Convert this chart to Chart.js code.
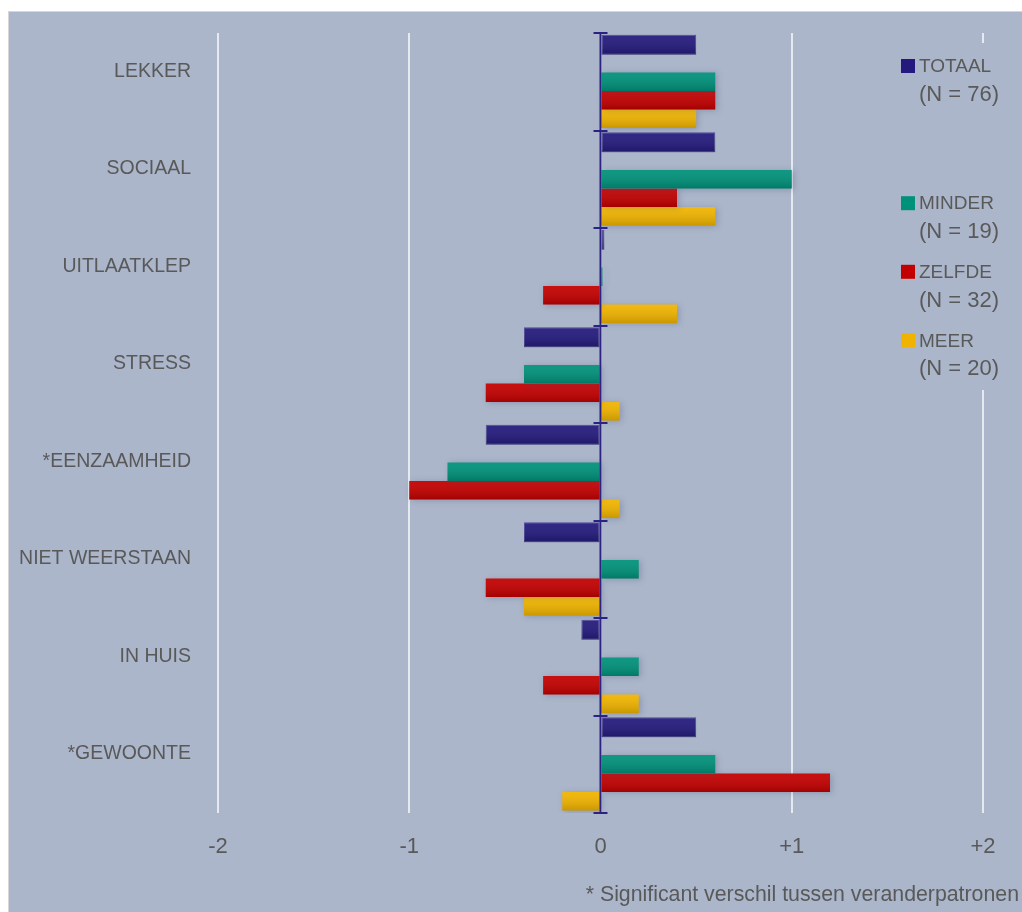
<!DOCTYPE html>
<html lang="nl">
<head>
<meta charset="UTF-8">
<title>Eetmotieven per veranderpatroon</title>
<script src="https://cdn.jsdelivr.net/npm/chart.js"></script>
<style>
    body {
        margin: 0;
        background-color: #ffffff;
    }

    canvas {
        display: block;
    }
</style>
</head>
<body>
<canvas id="motiefChart" width="1022" height="912"></canvas>

<script>
    const categories = ['LEKKER', 'SOCIAAL', 'UITLAATKLEP', 'STRESS', '*EENZAAMHEID', 'NIET WEERSTAAN', 'IN HUIS', '*GEWOONTE'];
    const totaal = [0.5, 0.6, 0.02, -0.4, -0.6, -0.4, -0.1, 0.5];
    const minder = [0.6, 1.0, 0.01, -0.4, -0.8, 0.2, 0.2, 0.6];
    const zelfde = [0.6, 0.4, -0.3, -0.6, -1.0, -0.6, -0.3, 1.2];
    const meer = [0.5, 0.6, 0.4, 0.1, 0.1, -0.4, 0.2, -0.2];
    const groupNames = ['TOTAAL', '', 'MINDER', 'ZELFDE', 'MEER'];
    const groupSizes = [76, null, 19, 32, 20];
    const xTicks = [-2, -1, 0, 1, 2];
    const footnote = '* Significant verschil tussen veranderpatronen';

    const FONT = "'Liberation Sans', Arial, sans-serif";
    const TEXT = '#595959';
    const BG = '#abb6ca';
    const colors = ['#241a7d', 'rgba(0,0,0,0)', '#00917a', '#c30000', '#f0b400'];

    // empty slot between TOTAAL and the three groups
    const series = [totaal, categories.map(() => null), minder, zelfde, meer];

    const datasets = series.map((values, i) => ({
        label: groupNames[i],
        data: values,
        backgroundColor: colors[i],
        borderColor: i === 0 ? '#4c479a' : colors[i],
        borderWidth: i === 0 ? 1 : 0,
        borderSkipped: false,
        categoryPercentage: 0.95,
        barPercentage: i === 0 ? 1.08 : 1
    }));

    // page background with thin frame
    const backdrop = {
        id: 'backdrop',
        beforeDraw(chart) {
            const { ctx, width, height } = chart;
            ctx.save();
            ctx.fillStyle = '#ffffff';
            ctx.fillRect(0, 0, width, height);
            ctx.fillStyle = '#d6d6d6';
            ctx.fillRect(8, 11, width - 8, height - 11);
            ctx.fillStyle = BG;
            ctx.fillRect(9, 12, width - 9, height - 12);
            ctx.restore();
        }
    };

    // soft shadow, shading on the bars and the zero axis with its ticks
    const barStyle = {
        id: 'barStyle',
        beforeDatasetsDraw(chart) {
            const ctx = chart.ctx;
            ctx.save();
            ctx.shadowColor = 'rgba(60, 70, 110, 0.28)';
            ctx.shadowBlur = 6;
            ctx.shadowOffsetX = 2;
            ctx.shadowOffsetY = 1;
        },
        afterDatasetsDraw(chart) {
            const { ctx, chartArea, scales: { x, y } } = chart;
            ctx.restore();

            ctx.save();
            chart.getSortedVisibleDatasetMetas().forEach(meta => {
                meta.data.forEach(bar => {
                    const p = bar.getProps(['x', 'y', 'base', 'height']);
                    if (p.x === p.base || isNaN(p.x)) return;
                    const top = p.y - p.height / 2;
                    const g = ctx.createLinearGradient(0, top, 0, top + p.height);
                    g.addColorStop(0, 'rgba(255,255,255,0.06)');
                    g.addColorStop(1, 'rgba(0,0,0,0.16)');
                    ctx.fillStyle = g;
                    ctx.fillRect(Math.min(p.x, p.base), top, Math.abs(p.x - p.base), p.height);
                });
            });

            const x0 = x.getPixelForValue(0);
            ctx.strokeStyle = '#2b2284';
            ctx.lineWidth = 2;
            ctx.beginPath();
            ctx.moveTo(x0, chartArea.top);
            ctx.lineTo(x0, chartArea.bottom);
            for (let i = 0; i <= categories.length; i++) {
                const yb = Math.round(y.getPixelForValue(i - 0.5));
                ctx.moveTo(x0 - 7, yb);
                ctx.lineTo(x0 + 7, yb);
            }
            ctx.stroke();
            ctx.restore();
        }
    };

    // two-line legend on the right and the footnote
    const sideLegend = {
        id: 'sideLegend',
        afterDraw(chart) {
            const ctx = chart.ctx;
            ctx.save();
            ctx.fillStyle = BG;
            ctx.fillRect(893, 43, 120, 347);
            ctx.textBaseline = 'middle';
            ctx.textAlign = 'left';
            groupNames.forEach((name, i) => {
                if (!name) return;
                const yc = 66 + i * 68.6;
                ctx.fillStyle = colors[i];
                ctx.fillRect(901, yc - 7, 14, 14);
                ctx.fillStyle = TEXT;
                ctx.font = '19px ' + FONT;
                ctx.fillText(name, 919, yc + 1);
                ctx.font = '22px ' + FONT;
                ctx.fillText('(N = ' + groupSizes[i] + ')', 919, yc + 29);
            });
            ctx.font = '21.3px ' + FONT;
            ctx.textAlign = 'right';
            ctx.fillText(footnote, 1019, 895);
            ctx.restore();
        }
    };

    new Chart(document.getElementById('motiefChart'), {
        type: 'bar',
        data: {
            labels: categories,
            datasets: datasets
        },
        options: {
            indexAxis: 'y',
            responsive: false,
            animation: false,
            layout: {
                padding: { top: 33, right: 39, bottom: 0, left: 0 }
            },
            plugins: {
                legend: { display: false },
                tooltip: { enabled: false }
            },
            scales: {
                x: {
                    min: -2,
                    max: 2,
                    afterBuildTicks: scale => {
                        scale.ticks = xTicks.map(v => ({ value: v }));
                    },
                    afterFit: scale => {
                        scale.height = 99;
                    },
                    border: { display: false },
                    grid: {
                        color: 'rgba(236, 239, 244, 0.9)',
                        lineWidth: 2,
                        drawTicks: false
                    },
                    ticks: {
                        padding: 21,
                        color: TEXT,
                        font: { family: FONT, size: 22 },
                        callback: v => (v > 0 ? '+' + v : String(v))
                    }
                },
                y: {
                    afterFit: scale => {
                        scale.width = 218;
                        // label padding should not push the plot area down
                        scale.paddingTop = 0;
                        scale.paddingBottom = 0;
                    },
                    border: { display: false },
                    grid: { display: false, drawTicks: false },
                    ticks: {
                        padding: 27,
                        labelOffset: -10.5,
                        color: TEXT,
                        font: { family: FONT, size: 19.5 }
                    }
                }
            }
        },
        plugins: [backdrop, barStyle, sideLegend]
    });
</script>
</body>
</html>
